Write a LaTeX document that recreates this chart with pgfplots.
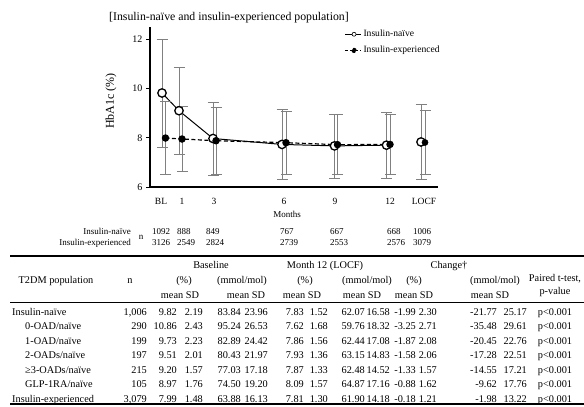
\documentclass[border=0pt]{standalone}
\usepackage{fontspec}
\setmainfont{Liberation Serif}
\usepackage{pgfplots}
\usepackage{pgfplotstable}
\pgfplotsset{compat=1.18}
\usetikzlibrary{plotmarks}

\pgfplotstableread{
x y e
162 9.82 2.19
179 9.10 1.76
213 7.97 1.48
282 7.73 1.41
334.5 7.67 1.30
386.5 7.70 1.33
}\naive
\pgfplotstableread{
x y e
421 7.83 1.52
}\naiveLOCF
\pgfplotstableread{
x y e
165.5 7.99 1.48
182 7.95 1.32
216 7.88 1.35
286 7.80 1.29
337.5 7.72 1.22
390 7.73 1.22
}\exper
\pgfplotstableread{
x y e
425 7.81 1.30
}\experLOCF

\newcommand{\TL}[3]{\node[anchor=base west,inner sep=0pt] at (#1,-#2) {#3};}
\newcommand{\TR}[3]{\node[anchor=base east,inner sep=0pt] at (#1,-#2) {#3};}
\newcommand{\TC}[3]{\node[anchor=base,inner sep=0pt] at (#1,-#2) {#3};}
\newcommand{\rowA}[4]{\TL{#2}{#1}{#3}\TR{147}{#1}{#4}}
\newcommand{\rowB}[9]{\TR{177}{#1}{#2}\TR{203}{#1}{#3}\TR{241}{#1}{#4}\TR{268}{#1}{#5}\TR{304}{#1}{#6}\TR{328}{#1}{#7}\TR{365}{#1}{#8}\TR{390}{#1}{#9}}
\newcommand{\rowC}[5]{\TR{416}{#1}{#2}\TR{437}{#1}{#3}\TR{497}{#1}{#4}\TR{527}{#1}{#5}\TC{555}{#1}{p<0.001}}

\pgfplotsset{
  ebar/.style={error bars/.cd, y dir=both, y explicit, error mark=|,
    error bar style={solid, gray, line width=0.7pt},
    error mark options={solid, draw=gray, mark size=5.5pt, line width=0.7pt}},
}

\begin{document}
\begin{tikzpicture}[x=1pt,y=1pt]
\path[use as bounding box] (0,0) rectangle (584,-407);
\begin{axis}[
  at={(150pt,-187pt)}, anchor=south west,
  scale only axis, width=288pt, height=160pt,
  xmin=150, xmax=438, ymin=6, ymax=12.5,
  axis x line*=bottom, axis y line*=left,
  axis line style={line width=1.3pt, black},
  xtick={161,182,214,284,335,390,424},
  xticklabels={BL,1,3,6,9,12,LOCF},
  x tick style={draw=none},
  xticklabel style={font=\fontsize{9.5}{11}\selectfont, yshift=-4pt},
  ytick={6,8,10,12},
  y tick style={line width=0.9pt, black},
  tick align=outside, major tick length=4pt,
  yticklabel style={font=\fontsize{10}{12}\selectfont},
  /pgf/number format/assume math mode=true,
  clip=false,
  legend style={at={(0.675,0.994)}, anchor=north west, draw=none, fill=none,
    font=\fontsize{9.6}{11}\selectfont, inner sep=0pt, row sep=4pt, cells={anchor=west}},
  legend cell align=left,
]
\addplot[black, line width=1pt, mark=*, mark size=4.2pt,
  mark options={solid, fill=white, draw=black, line width=1.3pt},
  legend image code/.code={\draw[black,line width=0.7pt] (0pt,0pt) -- (16pt,0pt);
    \draw[black,fill=white,line width=0.6pt] (9pt,0pt) circle (2pt);},
  ebar]
  table[x=x,y=y,y error=e]{\naive};
\addlegendentry{Insulin-naïve}
\addplot[forget plot, only marks, mark=*, mark size=4.2pt,
  mark options={solid, fill=white, draw=black, line width=1.3pt}, ebar]
  table[x=x,y=y,y error=e]{\naiveLOCF};
\addplot[black, line width=1.2pt, dash pattern=on 4pt off 2.5pt, mark=*, mark size=3.1pt,
  mark options={solid, fill=black, draw=black},
  legend image code/.code={\draw[black,line width=0.9pt,dash pattern=on 3pt off 2pt] (0pt,0pt) -- (16pt,0pt);
    \fill[black] (9pt,0pt) circle (2pt);},
  ebar]
  table[x=x,y=y,y error=e]{\exper};
\addlegendentry{Insulin-experienced}
\addplot[forget plot, only marks, mark=*, mark size=3.1pt,
  mark options={solid, fill=black, draw=black}, ebar]
  table[x=x,y=y,y error=e]{\experLOCF};
\end{axis}

% title and labels
\node[anchor=base west, inner sep=0pt, font=\fontsize{11.8}{14}\selectfont] at (109,-20) {[Insulin-naïve and insulin-experienced population]};
\node[rotate=90, inner sep=0pt, font=\fontsize{12}{14}\selectfont] at (111,-101) {HbA1c (\%)};
\node[anchor=base, inner sep=0pt, font=\fontsize{9}{10}\selectfont] at (287,-217.5) {Months};

% n table
\begin{scope}[font=\fontsize{9}{10}\selectfont]
\TR{131}{234.5}{Insulin-naïve}
\TR{131}{245.5}{Insulin-experienced}
\node[inner sep=0pt] at (141,-237) {n};
\TL{152}{234.5}{1092}\TL{177}{234.5}{888}\TL{206}{234.5}{849}\TL{280}{234.5}{767}\TL{330}{234.5}{667}\TL{387}{234.5}{668}\TL{413}{234.5}{1006}
\TL{152}{245.5}{3126}\TL{177}{245.5}{2549}\TL{206}{245.5}{2824}\TL{280}{245.5}{2739}\TL{330}{245.5}{2553}\TL{387}{245.5}{2576}\TL{413}{245.5}{3079}
\end{scope}

% main table
\draw[line width=1.6pt] (10,-256) -- (584,-256);
\draw[line width=0.4pt] (10,-302) -- (584,-302);
\draw[line width=1.4pt] (10,-404) -- (584,-404);
\begin{scope}[font=\fontsize{10.3}{12}\selectfont]
\TC{211}{268}{Baseline}
\TC{325}{268}{Month 12 (LOCF)}
\TC{449}{268}{Change†}
\TC{56}{283}{T2DM population}
\TC{130}{283}{n}
\TC{184}{283}{(\%)}\TC{242}{283}{(mmol/mol)}
\TC{305}{283}{(\%)}\TC{367}{283}{(mmol/mol)}
\TC{414}{283}{(\%)}\TC{495}{283}{(mmol/mol)}
\TC{555}{281}{Paired t-test,}
\TC{555}{294}{p-value}
\TC{180}{298}{mean SD}\TC{246}{298}{mean SD}\TC{302}{298}{mean SD}
\TC{362}{298}{mean SD}\TC{414}{298}{mean SD}\TC{490}{298}{mean SD}

\rowA{315}{12}{Insulin-naïve}{1,006}
\rowB{315}{9.82}{2.19}{83.84}{23.96}{7.83}{1.52}{62.07}{16.58}
\rowC{315}{-1.99}{2.30}{-21.77}{25.17}

\rowA{329.5}{25}{0-OAD/naïve}{290}
\rowB{329.5}{10.86}{2.43}{95.24}{26.53}{7.62}{1.68}{59.76}{18.32}
\rowC{329.5}{-3.25}{2.71}{-35.48}{29.61}

\rowA{344}{25}{1-OAD/naïve}{199}
\rowB{344}{9.73}{2.23}{82.89}{24.42}{7.86}{1.56}{62.44}{17.08}
\rowC{344}{-1.87}{2.08}{-20.45}{22.76}

\rowA{358.5}{25}{2-OADs/naïve}{197}
\rowB{358.5}{9.51}{2.01}{80.43}{21.97}{7.93}{1.36}{63.15}{14.83}
\rowC{358.5}{-1.58}{2.06}{-17.28}{22.51}

\rowA{373}{25}{≥3-OADs/naïve}{215}
\rowB{373}{9.20}{1.57}{77.03}{17.18}{7.87}{1.33}{62.48}{14.52}
\rowC{373}{-1.33}{1.57}{-14.55}{17.21}

\rowA{387.5}{25}{GLP-1RA/naïve}{105}
\rowB{387.5}{8.97}{1.76}{74.50}{19.20}{8.09}{1.57}{64.87}{17.16}
\rowC{387.5}{-0.88}{1.62}{-9.62}{17.76}

\rowA{402}{12}{Insulin-experienced}{3,079}
\rowB{402}{7.99}{1.48}{63.88}{16.13}{7.81}{1.30}{61.90}{14.18}
\rowC{402}{-0.18}{1.21}{-1.98}{13.22}
\end{scope}
\end{tikzpicture}
\end{document}
